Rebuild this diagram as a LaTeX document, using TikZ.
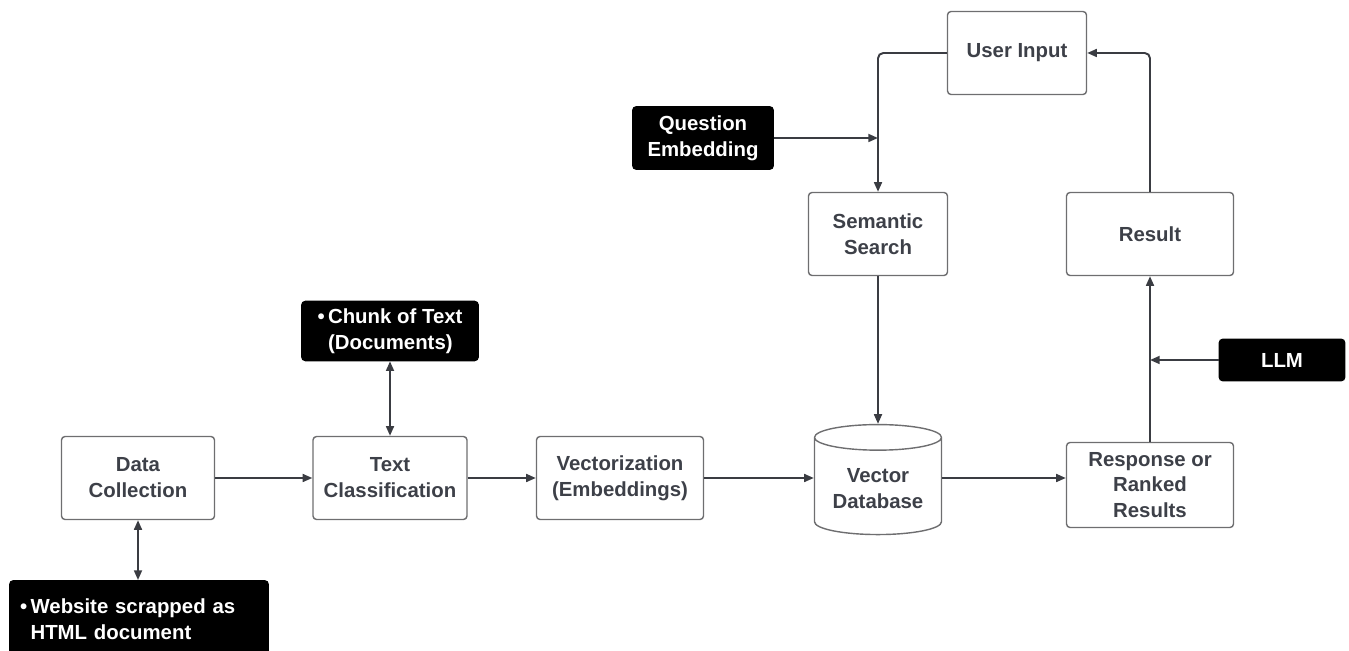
\documentclass[tikz,border=0pt]{standalone}
\usepackage{fontspec}
\setmainfont{Liberation Sans}
\usetikzlibrary{arrows.meta, positioning, shapes.geometric}
\definecolor{linegray}{HTML}{3A3C42}
\definecolor{boxgray}{HTML}{6E6E70}
\definecolor{textgray}{HTML}{3D4048}

\begin{document}
\begin{tikzpicture}[x=0.02cm,y=-0.02cm,->,>={Triangle[length=5.5pt,width=4.5pt]},draw=linegray,line width=1.1pt]
    \tikzstyle{every node}=[font=\bfseries\fontsize{11.6}{14.7}\selectfont]
    \tikzstyle{stage}=[rectangle,draw=boxgray,line width=0.8pt,rounded corners=2pt,align=center,text=textgray,inner sep=2pt,minimum height=1.66cm]
    \tikzstyle{source}=[rectangle,fill=black,draw=black,rounded corners=2pt,align=center,text=white,inner sep=2pt]
    \tikzstyle{store}=[cylinder,shape border rotate=90,aspect=0.25,draw=boxgray,line width=0.8pt,align=center,text=textgray,minimum width=2.54cm,minimum height=2.2cm]

    \useasboundingbox (0,0) rectangle (1349,651);

    % Draw the pipeline along the bottom
    \node[stage, minimum width=3.06cm] (dc) at (138,478) {Data\\Collection};
    \node[stage, minimum width=3.08cm] (tc) at (390,478) {Text\\Classification};
    \node[stage, minimum width=3.34cm] (vec) at (620,478) {Vectorization\\(Embeddings)};
    \node[store] (db) at (878,489) {Vector\\Database};
    \node[stage, minimum width=3.34cm, minimum height=1.7cm] (resp) at (1150,485) {Response or\\Ranked\\Results};

    % Draw the query side
    \node[stage, minimum width=2.78cm] (ss) at (878,234) {Semantic\\Search};
    \node[stage, minimum width=2.78cm] (ui) at (1017,53) {User Input};
    \node[stage, minimum width=3.34cm] (res) at (1150,234) {Result};

    % Draw the black input boxes
    \node[source, minimum width=2.8cm, minimum height=1.24cm] (qe) at (703,138) {Question\\Embedding};
    \node[source, minimum width=3.52cm, minimum height=1.14cm] (chunk) at (390,331)
        {\begin{tabular}{@{}l@{\,}l@{}}\textbullet & Chunk of Text\\ & (Documents)\end{tabular}};
    \node[source, minimum height=1.6cm, text width=4.76cm, inner xsep=0.2cm, align=left] (web) at (139,621)
        {\begin{tabular}{@{}l@{\,}l@{}}\textbullet & Website scrapped as\\ & HTML document\end{tabular}};
    \node[source, minimum width=2.5cm, minimum height=0.82cm] (llm) at (1282,360) {LLM};

    % Connect the pipeline
    \draw (dc) -- (tc);
    \draw (tc) -- (vec);
    \draw (vec.east) -- (vec.east -| db.west);
    \draw (vec -| db.east) -- (vec -| resp.west);
    \draw[<->] (chunk) -- (tc);
    \draw[<->] (dc.south) -- (dc.south |- web.north);

    % Connect the query loop
    \draw[rounded corners=3pt] (ui.west) -| (ss.north);
    \draw (qe) -- (qe -| ss.north);
    \draw (ss) -- (ss |- db.north);
    \draw (resp) -- (res);
    \draw (llm) -- (llm -| resp.north);
    \draw[rounded corners=3pt] (res.north) |- (ui.east);
\end{tikzpicture}
\end{document}
